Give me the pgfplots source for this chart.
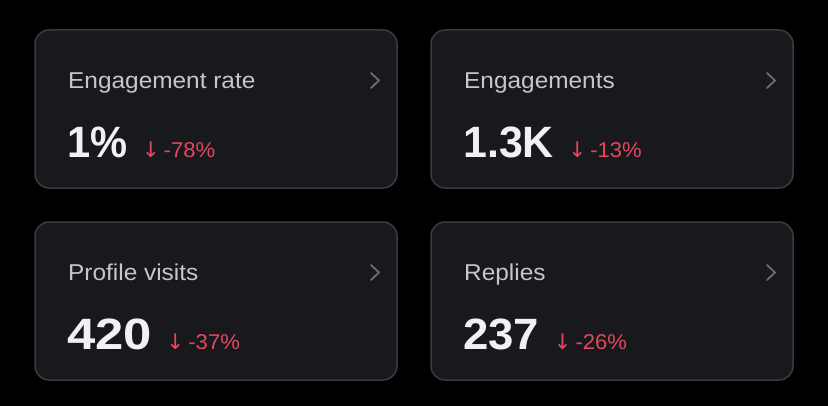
\documentclass[border=0pt]{standalone}
\usepackage{pgfplots}
\pgfplotsset{compat=1.18}
\usepackage{graphicx}
\usepackage{fontspec}
\setmainfont{Liberation Sans}
\newfontfamily\labfont[FakeStretch=1.065]{Liberation Sans}
\newfontfamily\chgfont[FakeStretch=1.03]{Liberation Sans}
\newfontfamily\symfont{DejaVu Sans}
\definecolor{cardfill}{HTML}{18191D}
\definecolor{cardedge}{HTML}{3A3B3F}
\definecolor{labelc}{HTML}{C6C7CB}
\definecolor{valuec}{HTML}{F1F1F3}
\definecolor{redc}{HTML}{E3475C}
\definecolor{chevc}{HTML}{6C6D72}
\newcommand{\lab}[1]{\labfont\fontsize{23}{26}\selectfont #1}
\newcommand{\val}[2]{\scalebox{#1}[1]{\fontsize{44}{48}\selectfont\bfseries #2}}
\newcommand{\chg}[1]{{\symfont\fontsize{21.5}{24}\selectfont ↓}\hspace{4bp}{\chgfont\fontsize{21.5}{24}\selectfont #1}}
\begin{document}
\begin{tikzpicture}[x=1bp,y=1bp]
\begin{axis}[
  width=828bp, height=406bp, scale only axis,
  xmin=0, xmax=828, ymin=0, ymax=406, y dir=reverse,
  hide axis, clip=false,
]
\fill[black] (axis cs:0,0) rectangle (axis cs:828,406);
% cards
\draw[cardedge, line width=1.5bp, fill=cardfill, rounded corners=14bp] (axis cs:35,30) rectangle (axis cs:397,188);
\draw[cardedge, line width=1.5bp, fill=cardfill, rounded corners=14bp] (axis cs:431,30) rectangle (axis cs:793,188);
\draw[cardedge, line width=1.5bp, fill=cardfill, rounded corners=14bp] (axis cs:35,222) rectangle (axis cs:397,380);
\draw[cardedge, line width=1.5bp, fill=cardfill, rounded corners=14bp] (axis cs:431,222) rectangle (axis cs:793,380);
% chevrons
\draw[chevc, line width=1.8bp, line cap=round, line join=round] (axis cs:371,73) -- (axis cs:379,80.5) -- (axis cs:371,88);
\draw[chevc, line width=1.8bp, line cap=round, line join=round] (axis cs:767,73) -- (axis cs:775,80.5) -- (axis cs:767,88);
\draw[chevc, line width=1.8bp, line cap=round, line join=round] (axis cs:371,265) -- (axis cs:379,272.5) -- (axis cs:371,280);
\draw[chevc, line width=1.8bp, line cap=round, line join=round] (axis cs:767,265) -- (axis cs:775,272.5) -- (axis cs:767,280);
% labels
\node[anchor=base west, inner sep=0, text=labelc] at (axis cs:68,88) {\lab{Engagement rate}};
\node[anchor=base west, inner sep=0, text=labelc] at (axis cs:464,88) {\lab{Engagements}};
\node[anchor=base west, inner sep=0, text=labelc] at (axis cs:68,280) {\lab{Profile visits}};
\node[anchor=base west, inner sep=0, text=labelc] at (axis cs:464,280) {\lab{Replies}};
% values
\node[anchor=base west, inner sep=0, text=valuec] (v1) at (axis cs:67,157) {\val{0.95}{1\%}};
\node[anchor=base west, inner sep=0, text=valuec] (v2) at (axis cs:463,157) {\val{0.98}{1.3K}};
\node[anchor=base west, inner sep=0, text=valuec] (v3) at (axis cs:67,349) {\val{1.16}{420}};
\node[anchor=base west, inner sep=0, text=valuec] (v4) at (axis cs:463,349) {\val{1.04}{237}};
% changes
\node[anchor=base west, inner sep=0, text=redc] at ([xshift=14bp]v1.base east) {\chg{-78\%}};
\node[anchor=base west, inner sep=0, text=redc] at ([xshift=14bp]v2.base east) {\chg{-13\%}};
\node[anchor=base west, inner sep=0, text=redc] at ([xshift=14bp]v3.base east) {\chg{-37\%}};
\node[anchor=base west, inner sep=0, text=redc] at ([xshift=14bp]v4.base east) {\chg{-26\%}};
\end{axis}
\end{tikzpicture}
\end{document}
